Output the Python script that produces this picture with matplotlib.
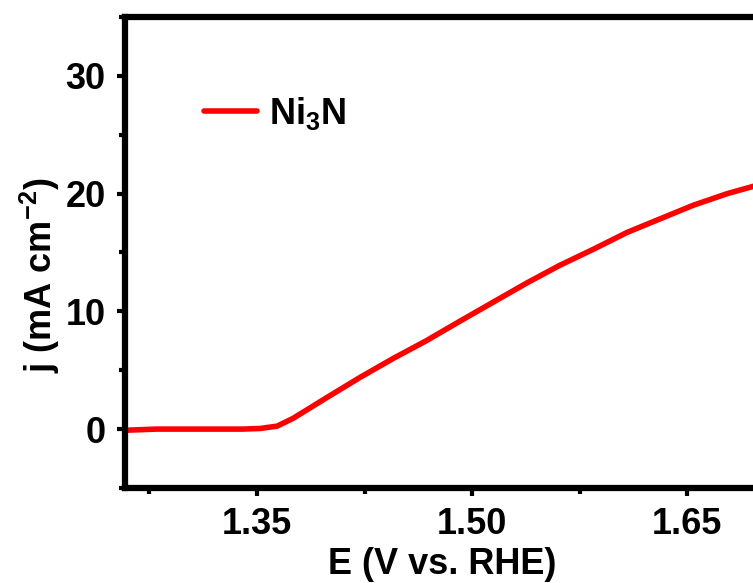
import matplotlib
matplotlib.use("Agg")
import matplotlib.pyplot as plt
from matplotlib.ticker import MultipleLocator

# LSV curve
potential = [1.258, 1.28, 1.30, 1.32, 1.34, 1.352, 1.364, 1.375, 1.399, 1.422, 1.445,
             1.468, 1.492, 1.515, 1.538, 1.561, 1.585, 1.608, 1.631, 1.654, 1.678, 1.70]
current = [-0.1, 0.0, 0.0, 0.0, 0.0, 0.05, 0.25, 0.9, 2.7, 4.4, 6.0,
           7.5, 9.2, 10.8, 12.4, 13.9, 15.3, 16.7, 17.85, 19.0, 20.0, 20.75]
series_label = "Ni$_3$N"

x_ticks = [1.35, 1.50, 1.65]
y_ticks = [0, 10, 20, 30]

plt.rcParams['font.family'] = ['Liberation Sans', 'DejaVu Sans']
plt.rcParams['font.weight'] = 'bold'
plt.rcParams['axes.unicode_minus'] = False
plt.rcParams['mathtext.fontset'] = 'custom'
plt.rcParams['mathtext.rm'] = 'Liberation Sans:bold'
plt.rcParams['mathtext.it'] = 'Liberation Sans:bold'
plt.rcParams['mathtext.bf'] = 'Liberation Sans:bold'

fs = 26

fig = plt.figure(figsize=(7.53, 5.83), dpi=100)
ax = fig.add_axes([0.166, 0.163, 0.842, 0.808])

ax.plot(potential, current, color="red", lw=4, label=series_label,
        solid_joinstyle='round', solid_capstyle='round')

ax.set_xlim(1.258, 1.70)
ax.set_ylim(-5, 35)
ax.set_xticks(x_ticks)
ax.set_xticklabels(["%.2f" % t for t in x_ticks])
ax.set_yticks(y_ticks)
ax.xaxis.set_minor_locator(MultipleLocator(0.075))
ax.yaxis.set_minor_locator(MultipleLocator(5))

for s in ax.spines.values():
    s.set_linewidth(4.5)
ax.spines['right'].set_visible(False)

ax.tick_params(which='major', direction='out', length=6, width=3, labelsize=fs, pad=8,
               top=False, right=False)
ax.tick_params(which='minor', direction='out', length=4, width=3, top=False, right=False)

ax.set_xlabel("E (V vs. RHE)", fontsize=fs, fontweight='bold', labelpad=3)
ax.set_ylabel("j (mA cm$^{-2}$)", fontsize=fs, fontweight='bold')
ax.yaxis.set_label_coords(-0.10, 0.452)

ax.legend(loc='center left', bbox_to_anchor=(0.125, 0.796), frameon=False,
          fontsize=fs, handlelength=1.45, handletextpad=0.35, borderpad=0, borderaxespad=0)

fig.savefig("out.png", dpi=100)
